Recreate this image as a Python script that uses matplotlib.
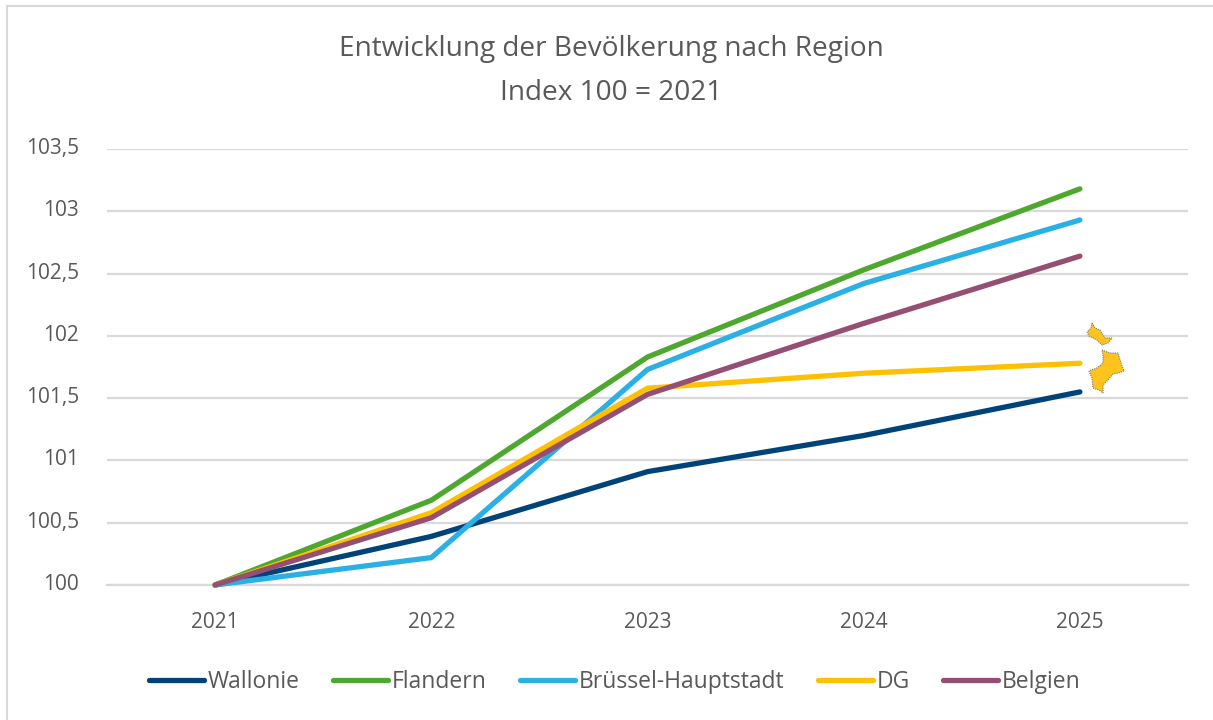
import matplotlib
matplotlib.use("Agg")
import matplotlib.pyplot as plt
from matplotlib.patches import Polygon, Rectangle
from matplotlib.transforms import Affine2D, ScaledTranslation

plt.rcParams['font.family'] = ['Open Sans', 'DejaVu Sans']

W, H = 1213, 720

years = ["2021", "2022", "2023", "2024", "2025"]
wallonie = [100, 100.39, 100.91, 101.20, 101.55]
flandern = [100, 100.68, 101.83, 102.53, 103.18]
bruessel = [100, 100.22, 101.73, 102.42, 102.93]
dg = [100, 100.58, 101.58, 101.70, 101.78]
belgien = [100, 100.54, 101.53, 102.10, 102.64]

series_names = ["Wallonie", "Flandern", "Brüssel-Hauptstadt", "DG", "Belgien"]
series_values = [wallonie, flandern, bruessel, dg, belgien]
series_colors = ["#004379", "#4EA72E", "#2BB0E6", "#FFC000", "#954F72"]

y_ticks = [100, 100.5, 101, 101.5, 102, 102.5, 103, 103.5]
y_labels = ["100", "100,5", "101", "101,5", "102", "102,5", "103", "103,5"]

text_col = "#595959"
grid_col = "#D9D9D9"

fig = plt.figure(figsize=(W / 100, H / 100), dpi=100)
ax = fig.add_axes([107 / W, 1 - 585 / H, (1188 - 107) / W, (585 - 149) / H])

x = range(len(years))
for name, vals, col in zip(series_names, series_values, series_colors):
    ax.plot(x, vals, color=col, linewidth=3.8, solid_capstyle='round',
            solid_joinstyle='round', label=name, clip_on=False, zorder=3)

ax.set_xlim(-0.5, 4.5)
ax.set_ylim(100, 103.5)
ax.set_xticks(list(x), years)
ax.set_yticks(y_ticks, y_labels)
ax.grid(axis='y', color=grid_col, linewidth=1.6)
ax.set_axisbelow(True)
for s in ['top', 'right', 'left']:
    ax.spines[s].set_visible(False)
ax.spines['bottom'].set_color(grid_col)
ax.spines['bottom'].set_linewidth(1.6)
ax.tick_params(length=0, labelsize=15, labelcolor=text_col)
ax.tick_params(axis='x', pad=19.5)
ax.tick_params(axis='y', pad=20)

# y labels sit a little above their gridlines
up = ScaledTranslation(0, 3 / 100, fig.dpi_scale_trans)
for lab in ax.get_yticklabels():
    lab.set_transform(lab.get_transform() + up)

fig.text(611 / W, 1 - 49 / H, "Entwicklung der Bevölkerung nach Region", ha='center',
         va='center', fontsize=20.2, color=text_col)
fig.text(611 / W, 1 - 93 / H, "Index 100 = 2021", ha='center', va='center',
         fontsize=20.2, color=text_col)

fig.legend(loc='center', bbox_to_anchor=(615 / W, 1 - 682 / H), ncol=5, frameon=False,
           fontsize=16.5, labelcolor=text_col, handlelength=2.4, handletextpad=0.17,
           columnspacing=1.45)

# chart frame
fig.add_artist(Rectangle((7 / W, -0.02), 1.2, 1.02 - 6 / H, transform=fig.transFigure,
                         fill=False, edgecolor=grid_col, linewidth=1.5))

# small map of the DG next to the last point (pixel positions of the picture)
px = Affine2D().scale(1 / W, -1 / H).translate(0, 1) + fig.transFigure
north = [(1092, 323), (1095, 328), (1100, 330), (1105, 338), (1112, 338), (1108, 343),
         (1102, 345), (1097, 340), (1089, 336), (1087, 332), (1091, 328)]
south = [(1102, 350), (1110, 353), (1118, 353), (1121, 363), (1124, 371), (1118, 373),
         (1113, 374), (1108, 380), (1103, 385), (1103, 393), (1099, 390), (1093, 388),
         (1092, 378), (1089, 371), (1097, 368), (1103, 363), (1103, 355)]
for pts in (north, south):
    fig.add_artist(Polygon(pts, closed=True, transform=px, facecolor="#FFC31F",
                           edgecolor="#77776F", linewidth=0.8, linestyle=(0, (1, 1))))

fig.savefig("out.png", dpi=100)
